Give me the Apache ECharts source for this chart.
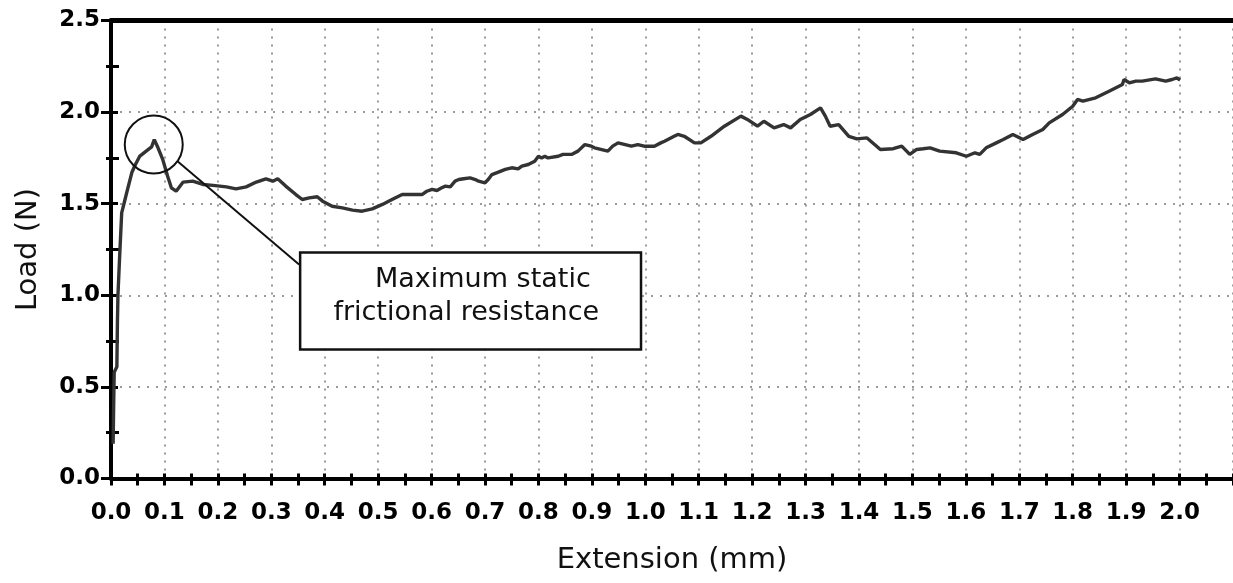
<!DOCTYPE html>
<html>
<head>
<meta charset="utf-8">
<script src="https://cdn.jsdelivr.net/npm/echarts@6/dist/echarts.min.js"></script>
<style>
html,body{margin:0;padding:0;background:#fff;}
#chart{width:1233px;height:583px;}
</style>
</head>
<body>
<div id="chart"></div>
<script>
// Extension (mm)
const extension = [
0.004,0.005,0.006,0.011,0.012,0.013,0.016,0.020,0.026,0.032,0.039,0.045,0.054,0.067,0.076,0.081,0.088,0.097,
0.106,0.113,0.122,0.135,0.153,0.172,0.191,0.216,0.234,0.253,0.272,0.290,0.303,0.312,0.327,0.346,0.358,0.371,0.386,0.396,0.414,0.433,0.452,0.470,0.489,0.508,0.526,0.545,
0.582,0.591,0.601,0.610,0.619,0.626,0.635,0.644,0.651,0.660,0.672,0.682,0.688,0.700,0.706,0.713,0.725,0.738,0.750,0.762,0.769,0.781,0.793,0.800,0.806,0.812,0.818,0.837,0.846,0.862,0.874,0.887,0.899,0.905,0.930,0.939,0.949,0.974,0.986,0.998,1.017,1.029,1.036,1.054,
1.061,1.073,1.092,1.104,1.123,1.148,1.179,1.191,1.210,1.222,1.241,1.259,1.272,1.290,1.309,1.328,1.337,1.346,1.362,1.381,1.396,1.415,1.440,1.464,1.480,1.495,1.508,1.520,1.533,1.551,1.582,1.601,1.617,1.626,1.638,1.657,1.670,1.688,1.707,1.725,1.744,1.756,1.781,1.800,1.809,1.819,1.843,1.868,1.893,1.896,1.906,1.918,1.930,1.955,1.974,1.986,1.995,2.001];
// Load (N)
const load = [
0.19,0.40,0.58,0.61,0.85,1.00,1.20,1.45,1.52,1.59,1.67,1.71,1.76,1.79,1.81,1.85,1.805,1.74,
1.65,1.587,1.568,1.618,1.623,1.605,1.600,1.592,1.581,1.592,1.618,1.636,1.623,1.636,1.596,1.550,1.523,1.532,1.538,1.514,1.486,1.477,1.465,1.459,1.472,1.496,1.523,1.550,
1.55,1.568,1.578,1.572,1.587,1.596,1.592,1.623,1.632,1.636,1.641,1.632,1.623,1.614,1.632,1.659,1.672,1.687,1.696,1.690,1.705,1.714,1.732,1.759,1.750,1.759,1.750,1.759,1.769,1.769,1.787,1.823,1.814,1.805,1.787,1.814,1.832,1.814,1.823,1.814,1.814,1.832,1.841,1.868,
1.878,1.868,1.832,1.832,1.868,1.923,1.978,1.96,1.923,1.95,1.914,1.932,1.914,1.96,1.987,2.023,1.978,1.923,1.932,1.868,1.854,1.859,1.796,1.80,1.814,1.769,1.796,1.80,1.805,1.787,1.778,1.759,1.778,1.769,1.805,1.832,1.85,1.878,1.85,1.878,1.905,1.941,1.987,2.032,2.069,2.06,2.078,2.114,2.151,2.178,2.16,2.169,2.169,2.181,2.169,2.178,2.187,2.174];

const xTitle = 'Extension (mm)';
const yTitle = 'Load (N)';
const noteLines = ['Maximum static', 'frictional resistance'];
// annotation anchor points in data space
const peakPoint = [0.080, 1.823];
const leaderStart = [0.125, 1.730];
const leaderEnd = [0.352, 1.168];
const boxTopLeft = [0.354, 1.233];
const boxBottomRight = [0.992, 0.704];
const noteLine1At = [0.696, 1.086];
const noteLine2At = [0.665, 0.906];

const tickFont = {fontFamily: "'DejaVu Sans',sans-serif", fontWeight: 'bold', fontSize: 23, color: '#000'};

const chart = echarts.init(document.getElementById('chart'), null, {renderer: 'canvas'});
const option = {
  animation: false,
  backgroundColor: '#fff',
  grid: {left: 111, top: 20.5, width: 1126.6, height: 458},
  xAxis: [
    {
      type: 'value', min: 0, max: 2.1, interval: 0.1, position: 'bottom',
      name: xTitle, nameLocation: 'middle', nameGap: 67,
      nameTextStyle: {fontFamily: "'DejaVu Sans',sans-serif", fontSize: 29, color: '#111'},
      axisLine: {show: true, lineStyle: {color: '#000', width: 4}},
      axisTick: {show: true, inside: false, length: 7, lineStyle: {color: '#000', width: 3}},
      minorTick: {show: true, splitNumber: 2, length: 7, lineStyle: {color: '#000', width: 3}},
      axisLabel: Object.assign({margin: 23, showMaxLabel: false, formatter: v => v.toFixed(1)}, tickFont),
      splitLine: {show: true, lineStyle: {color: '#9a9a9a', width: 2, type: [2, 6]}},
      z: 5
    },
    {
      type: 'value', min: 0, max: 2.1, interval: 0.1, position: 'bottom',
      axisLine: {show: false},
      axisTick: {show: true, inside: true, length: 5, lineStyle: {color: '#000', width: 3}},
      minorTick: {show: true, splitNumber: 2, length: 5, lineStyle: {color: '#000', width: 3}},
      axisLabel: {show: false},
      splitLine: {show: false},
      z: 5
    },
    {
      type: 'value', min: 0, max: 2.1, position: 'top',
      axisLine: {show: true, lineStyle: {color: '#000', width: 5}},
      axisTick: {show: false}, axisLabel: {show: false}, splitLine: {show: false},
      z: 8
    }
  ],
  yAxis: [
    {
      type: 'value', min: 0, max: 2.5, interval: 0.5, position: 'left',
      name: yTitle, nameLocation: 'middle', nameGap: 68,
      nameTextStyle: {fontFamily: "'DejaVu Sans',sans-serif", fontSize: 29, color: '#111'},
      axisLine: {show: true, lineStyle: {color: '#000', width: 4}},
      axisTick: {show: true, inside: false, length: 10, lineStyle: {color: '#000', width: 3}},
      minorTick: {show: true, splitNumber: 2, length: 5, lineStyle: {color: '#000', width: 3}},
      axisLabel: Object.assign({margin: 11, formatter: v => v.toFixed(1)}, tickFont),
      splitLine: {show: true, lineStyle: {color: '#9a9a9a', width: 2, type: [2, 7]}},
      z: 5
    },
    {
      type: 'value', min: 0, max: 2.5, interval: 0.5, position: 'left',
      axisLine: {show: false},
      axisTick: {show: true, inside: true, length: 7, lineStyle: {color: '#000', width: 3}},
      minorTick: {show: true, splitNumber: 2, length: 8, lineStyle: {color: '#000', width: 3}},
      axisLabel: {show: false},
      splitLine: {show: false},
      z: 5
    }
  ],
  series: [{
    type: 'line',
    xAxisIndex: 0, yAxisIndex: 0,
    data: extension.map((x, i) => [x, load[i]]),
    showSymbol: false,
    lineStyle: {color: '#333', width: 3.4},
    z: 10
  }]
};
chart.setOption(option);

function px(p) { return chart.convertToPixel({xAxisIndex: 0, yAxisIndex: 0}, p); }
const c = px(peakPoint), ls = px(leaderStart), le = px(leaderEnd);
const tl = px(boxTopLeft), br = px(boxBottomRight);
const t1 = px(noteLine1At), t2 = px(noteLine2At);
const noteFont = {fontFamily: "'DejaVu Sans',sans-serif", fontSize: 27, fill: '#111', align: 'center', verticalAlign: 'middle'};
chart.setOption({
  graphic: [
    {type: 'circle', shape: {cx: c[0], cy: c[1], r: 29}, style: {fill: 'none', stroke: '#111', lineWidth: 2}, z: 20},
    {type: 'line', shape: {x1: ls[0], y1: ls[1], x2: le[0], y2: le[1]}, style: {stroke: '#111', lineWidth: 2}, z: 20},
    {type: 'rect', shape: {x: tl[0], y: tl[1], width: br[0] - tl[0], height: br[1] - tl[1]}, style: {fill: '#fff', stroke: '#111', lineWidth: 2.5}, z: 20},
    {type: 'text', x: t1[0], y: t1[1], style: Object.assign({text: noteLines[0]}, noteFont), z: 21},
    {type: 'text', x: t2[0], y: t2[1], style: Object.assign({text: noteLines[1]}, noteFont), z: 21}
  ]
});
</script>
</body>
</html>
